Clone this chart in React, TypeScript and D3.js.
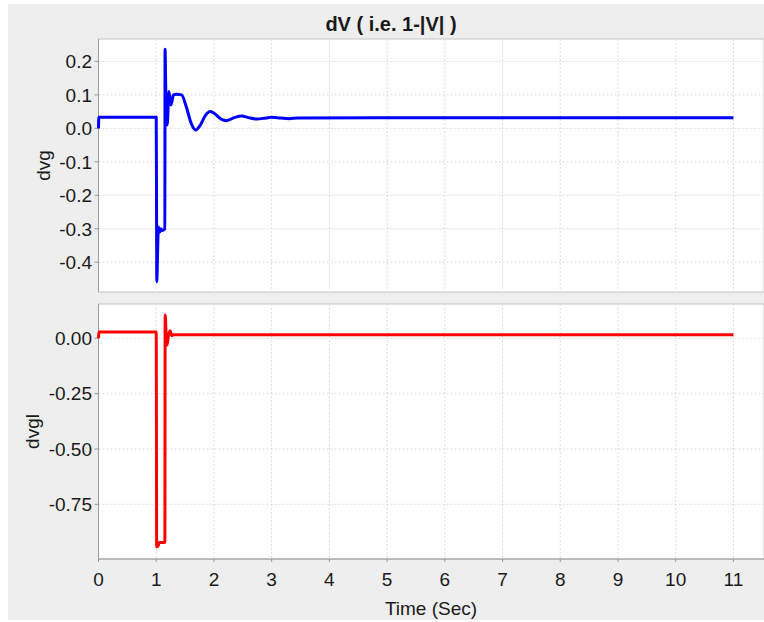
import React from 'react';
import * as d3 from 'd3';

// dvg (top panel, blue)
const dvgTime = [0, 0.005, 1.0, 1.005, 1.01, 1.02, 1.037, 1.06, 1.08, 1.1, 1.15, 1.153, 1.165, 1.19, 1.22, 1.255, 1.3, 1.35, 1.44, 1.52, 1.6, 1.68, 1.76, 1.85, 1.94, 2.02, 2.12, 2.22, 2.35, 2.48, 2.6, 2.75, 2.9, 3.0, 3.15, 3.3, 3.45, 11.0];
const dvgValue = [0.0, 0.033, 0.033, -0.2, -0.458, -0.4, -0.295, -0.31, -0.3, -0.305, -0.3, 0.236, 0.12, 0.01, 0.11, 0.07, 0.1, 0.102, 0.1, 0.065, 0.018, -0.005, 0.008, 0.038, 0.05, 0.043, 0.028, 0.023, 0.032, 0.037, 0.032, 0.028, 0.031, 0.033, 0.031, 0.029, 0.031, 0.032];

// dvgl (bottom panel, red)
const dvglTime = [0, 0.005, 1.0, 1.008, 1.03, 1.05, 1.15, 1.155, 1.17, 1.19, 1.21, 1.24, 1.27, 1.3, 11.0];
const dvglValue = [0.0, 0.028, 0.028, -0.942, -0.94, -0.922, -0.922, 0.105, 0.03, -0.03, 0.01, 0.034, 0.012, 0.016, 0.016];

const xTicks = [0, 1, 2, 3, 4, 5, 6, 7, 8, 9, 10, 11];
const dvgTicks = [0.2, 0.1, 0.0, -0.1, -0.2, -0.3, -0.4];
const dvglTicks = [0.0, -0.25, -0.5, -0.75];

const W = 764;
const H = 622;
const FONT = '"Liberation Sans", Arial, sans-serif';
const INK = '#1a1a1a';

const x = d3.scaleLinear().domain([0, 11.53]).range([98.5, 764]);

const panels = [
  {
    name: 'dvg', time: dvgTime, value: dvgValue, ticks: dvgTicks, fmt: d3.format('.1f'),
    domain: [-0.489, 0.267], top: 39, bottom: 292, color: '#0000ff', labelX: 50,
  },
  {
    name: 'dvgl', time: dvglTime, value: dvglValue, ticks: dvglTicks, fmt: d3.format('.2f'),
    domain: [-0.997, 0.155], top: 304, bottom: 559, color: '#ff0000', labelX: 38.5,
  },
];

function Panel({ p }: { p: typeof panels[0] }) {
  const y = d3.scaleLinear().domain(p.domain).range([p.bottom, p.top]);
  const line = d3.line<number>()
    .x((_, i) => x(p.time[i]))
    .y(d => y(d))
    .curve(d3.curveMonotoneX);
  const left = x.range()[0];
  const right = x.range()[1];
  return (
    <g>
      <rect x={left} y={p.top} width={right - left} height={p.bottom - p.top} fill="#ffffff" stroke="#c4c4c4" />
      {xTicks.map(t => (
        <line key={'gx' + t} x1={x(t)} x2={x(t)} y1={p.top} y2={p.bottom} stroke="#dcdcdc" strokeDasharray="2,2" />
      ))}
      {p.ticks.map(t => (
        <line key={'gy' + t} x1={left} x2={right} y1={y(t)} y2={y(t)} stroke="#dcdcdc" strokeDasharray="2,2" />
      ))}
      <line x1={left} x2={left} y1={p.top} y2={p.bottom} stroke="#9a9a9a" />
      {p.ticks.map(t => (
        <g key={'ty' + t}>
          <line x1={left - 4} x2={left} y1={y(t)} y2={y(t)} stroke="#9a9a9a" />
          <text x={92} y={y(t)} dy="0.36em" textAnchor="end" fontSize={19} fontFamily={FONT} fill={INK}>
            {p.fmt(t).replace('\u2212', '-')}
          </text>
        </g>
      ))}
      <text
        transform={`translate(${p.labelX},${(p.top + p.bottom) / 2}) rotate(-90)`}
        textAnchor="middle" fontSize={19} fontFamily={FONT} fill={INK}
      >
        {p.name}
      </text>
      <path d={line(p.value) || ''} fill="none" stroke={p.color} strokeWidth={3} strokeLinejoin="round" />
    </g>
  );
}

export default function App() {
  const bottom = panels[1].bottom;
  return (
    <svg width={W} height={H} style={{ position: 'absolute', left: 0, top: 0, background: '#fff' }}>
      <rect x={8} y={4} width={W - 8} height={616} fill="#eeeeee" />
      <text x={391} y={31} textAnchor="middle" fontSize={20} fontWeight="bold" fontFamily={FONT} fill={INK}>
        dV ( i.e. 1-|V| )
      </text>
      {panels.map(p => <Panel key={p.name} p={p} />)}
      <line x1={x.range()[0]} x2={x.range()[1]} y1={bottom} y2={bottom} stroke="#9a9a9a" />
      {xTicks.map(t => (
        <g key={'tx' + t}>
          <line x1={x(t)} x2={x(t)} y1={bottom} y2={bottom + 3} stroke="#9a9a9a" />
          <text x={x(t)} y={586} textAnchor="middle" fontSize={19} fontFamily={FONT} fill={INK}>{t}</text>
        </g>
      ))}
      <text x={431} y={615} textAnchor="middle" fontSize={19} fontFamily={FONT} fill={INK}>Time (Sec)</text>
    </svg>
  );
}
